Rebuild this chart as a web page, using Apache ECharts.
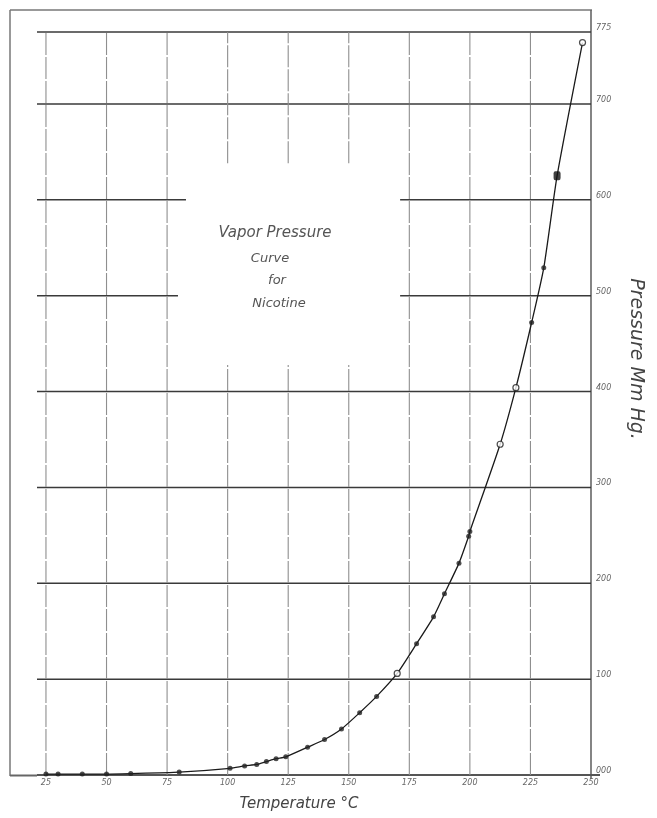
<!DOCTYPE html>
<html>
<head>
<meta charset="utf-8">
<script src="https://cdn.jsdelivr.net/npm/echarts@6/dist/echarts.min.js"></script>
<style>
  html, body { margin: 0; padding: 0; background: #ffffff; }
  #chart { width: 657px; height: 818px; }
</style>
</head>
<body>
<div id="chart"></div>
<script>
// ---------------- data ----------------
const temperatureC = [25, 30, 40, 50, 60, 80, 101, 107, 112, 116, 120, 124, 133, 140, 147,
  154.5, 161.5, 170, 178, 185, 189.5, 195.5, 199.5, 200, 212.5, 219, 225.5, 230.5, 236, 246.5];
const pressureMmHg = [1, 1, 1, 1, 1.5, 3, 7, 9.5, 11, 14, 17, 19, 29, 37, 48,
  65, 82, 106, 137, 165, 189, 221, 249, 254, 345, 404, 472, 529, 625, 764];
const xTicks = [25, 50, 75, 100, 125, 150, 175, 200, 225, 250];
const xTickLabels = ['25', '50', '75', '100', '125', '150', '175', '200', '225', '250'];
const yTicks = [0, 100, 200, 300, 400, 500, 600, 700, 775];
const yTickLabels = ['000', '100', '200', '300', '400', '500', '600', '700', '775'];
const titleLines = ['Vapor Pressure', 'Curve', 'for', 'Nicotine'];
const xAxisTitle = 'Temperature °C';
const yAxisTitle = 'Pressure Mm Hg.';

// ---------------- layout / style ----------------
const X_MIN = 21.3, X_MAX = 250, Y_MIN = 0, Y_MAX = 775;
const openIdx = [17, 24, 25, 29];   // hollow markers
const bigIdx = [28];                // larger filled marker
// gaps in the grid left for the title block (data units)
const hGaps = { 600: [82.8, 171.2], 500: [79.5, 171.2] };
const vGaps = { 100: [427.7, 638], 125: [427.7, 638], 150: [427.7, 638] };

// build grid segments
const gridSegs = [];
yTicks.forEach(v => {
  const g = hGaps[v];
  if (g) {
    gridSegs.push([X_MIN, v, g[0], v, 'h']);
    gridSegs.push([g[1], v, X_MAX, v, 'h']);
  } else {
    gridSegs.push([X_MIN, v, X_MAX, v, v === 0 ? 'h0' : 'h']);
  }
});
xTicks.forEach(t => {
  if (t === X_MAX) return;
  const g = vGaps[t];
  if (g) {
    gridSegs.push([t, Y_MIN, t, g[0], 'v']);
    gridSegs.push([t, g[1], t, Y_MAX, 'v']);
  } else {
    gridSegs.push([t, Y_MIN, t, Y_MAX, 'v']);
  }
});

const points = temperatureC.map((t, i) => [t, pressureMmHg[i]]);
const scatterData = points.map((p, i) => {
  if (openIdx.includes(i)) {
    return { value: p, symbolSize: 6, itemStyle: { color: '#fff', borderColor: '#222', borderWidth: 1.2 } };
  }
  if (bigIdx.includes(i)) {
    return { value: p, symbol: 'roundRect', symbolSize: [7, 9], itemStyle: { color: '#111' } };
  }
  return { value: p, symbolSize: 5, itemStyle: { color: '#222' } };
});

const chart = echarts.init(document.getElementById('chart'), null, { renderer: 'canvas' });
chart.setOption({
  backgroundColor: '#ffffff',
  animation: false,
  grid: { left: 37, right: 66, top: 32, bottom: 43, containLabel: false },
  xAxis: {
    type: 'value', min: X_MIN, max: X_MAX,
    axisLine: { show: false }, axisTick: { show: false }, splitLine: { show: false },
    axisLabel: {
      customValues: xTicks,
      formatter: v => xTickLabels[xTicks.indexOf(v)] ?? '',
      color: '#666', fontStyle: 'italic', fontSize: 8, fontFamily: 'DejaVu Sans', margin: 4
    }
  },
  yAxis: {
    type: 'value', position: 'right', min: Y_MIN, max: Y_MAX,
    axisLine: { show: false }, axisTick: { show: false }, splitLine: { show: false },
    axisLabel: {
      customValues: yTicks,
      formatter: v => yTickLabels[yTicks.indexOf(v)] ?? '',
      color: '#666', fontStyle: 'italic', fontSize: 8, fontFamily: 'DejaVu Sans', margin: 5,
      verticalAlign: 'bottom'
    }
  },
  graphic: [
    // outer frame of the drawing sheet
    { type: 'line', shape: { x1: 10, y1: 10, x2: 592, y2: 10 }, style: { stroke: '#777', lineWidth: 1.5 }, z: 0 },
    { type: 'line', shape: { x1: 10, y1: 10, x2: 10, y2: 776 }, style: { stroke: '#777', lineWidth: 1.5 }, z: 0 },
    { type: 'line', shape: { x1: 591, y1: 10, x2: 591, y2: 779 }, style: { stroke: '#666', lineWidth: 1.6 }, z: 0 },
    { type: 'line', shape: { x1: 10, y1: 775.5, x2: 37, y2: 775.5 }, style: { stroke: '#666', lineWidth: 2 }, z: 0 },
    // title block
    { type: 'text', x: 275, y: 233, style: { text: titleLines[0], font: 'italic 15px "DejaVu Sans", sans-serif', fill: '#555', align: 'center', verticalAlign: 'middle' } },
    { type: 'text', x: 270, y: 259, style: { text: titleLines[1], font: 'italic 13px "DejaVu Sans", sans-serif', fill: '#555', align: 'center', verticalAlign: 'middle' } },
    { type: 'text', x: 277, y: 281, style: { text: titleLines[2], font: 'italic 13px "DejaVu Sans", sans-serif', fill: '#555', align: 'center', verticalAlign: 'middle' } },
    { type: 'text', x: 279, y: 304, style: { text: titleLines[3], font: 'italic 13px "DejaVu Sans", sans-serif', fill: '#555', align: 'center', verticalAlign: 'middle' } },
    // axis titles
    { type: 'text', x: 299, y: 804, style: { text: xAxisTitle, font: 'italic 15px "DejaVu Sans", sans-serif', fill: '#444', align: 'center', verticalAlign: 'middle' } },
    { type: 'text', x: 636, y: 359, rotation: -Math.PI / 2,
      style: { text: yAxisTitle, font: 'italic 19px "DejaVu Sans", sans-serif', fill: '#444', align: 'center', verticalAlign: 'middle' } }
  ],
  series: [
    {
      type: 'custom', name: 'grid', z: 1, silent: true, clip: false,
      data: gridSegs,
      encode: { x: [0, 2], y: [1, 3] },
      renderItem: (params, api) => {
        const p1 = api.coord([api.value(0), api.value(1)]);
        const p2 = api.coord([api.value(2), api.value(3)]);
        const kind = gridSegs[params.dataIndex][4];
        let style;
        if (kind === 'v') style = { stroke: '#8f8f8f', lineWidth: 1.1, lineDash: [22, 2] };
        else if (kind === 'h0') style = { stroke: '#555', lineWidth: 2.2 };
        else style = { stroke: '#3a3a3a', lineWidth: 1.5 };
        if (kind === 'h0') p2[0] += 9;
        return { type: 'line', shape: { x1: p1[0], y1: p1[1], x2: p2[0], y2: p2[1] }, style };
      }
    },
    {
      type: 'line', name: 'curve', z: 3, data: points,
      smooth: 0.2, showSymbol: false, symbol: 'none',
      lineStyle: { color: '#1a1a1a', width: 1.3 }
    },
    {
      type: 'scatter', name: 'observations', z: 4, data: scatterData
    }
  ]
});
</script>
</body>
</html>
